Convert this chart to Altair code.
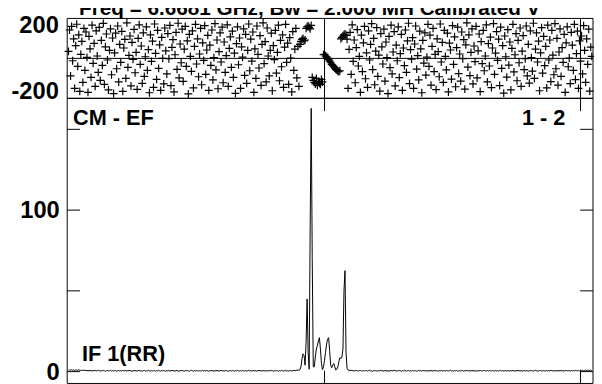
import altair as alt
import pandas as pd

# ---------------- data ----------------
channel = list(range(512))

amplitude = [
    0.9, 1.1, 0.8, 1.2, 0.9, 1.0, 0.7, 1.1, 0.8, 0.9, 1.2, 0.8, 0.6, 0.9, 0.7, 1.0,
    0.6, 0.8, 0.5, 0.7, 0.4, 0.8, 0.6, 0.3, 0.7, 0.5, 0.8, 0.4, 0.6, 0.9, 0.5, 0.3,
    0.6, 0.4, 0.8, 0.5, 0.2, 0.6, 0.7, 0.4, 0.5, 0.8, 0.3, 0.6, 0.4, 0.7, 0.5, 0.2,
    0.5, 0.7, 0.4, 0.6, 0.3, 0.8, 0.5, 0.4, 0.7, 0.3, 0.6, 0.5, 0.8, 0.4, 0.2, 0.6,
    0.4, 0.7, 0.5, 0.3, 0.6, 0.8, 0.4, 0.5, 0.2, 0.6, 0.7, 0.4, 0.5, 0.3, 0.8, 0.5,
    0.3, 0.6, 0.4, 0.7, 0.5, 0.2, 0.6, 0.4, 0.8, 0.5, 0.3, 0.7, 0.4, 0.6, 0.5, 0.2,
    0.6, 0.4, 0.7, 0.3, 0.5, 0.8, 0.4, 0.6, 0.3, 0.5, 0.7, 0.4, 0.2, 0.6, 0.5, 0.8,
    0.4, 0.3, 0.6, 0.5, 0.7, 0.4, 0.2, 0.6, 0.8, 0.5, 0.3, 0.6, 0.4, 0.7, 0.5, 0.3,
    0.6, 0.4, 0.5, 0.8, 0.3, 0.6, 0.4, 0.7, 0.5, 0.2, 0.6, 0.4, 0.7, 0.5, 0.3, 0.6,
    0.4, 0.7, 0.5, 0.3, 0.6, 0.8, 0.4, 0.5, 0.3, 0.6, 0.7, 0.4, 0.2, 0.5, 0.6, 0.4,
    0.7, 0.5, 0.3, 0.6, 0.4, 0.8, 0.5, 0.3, 0.6, 0.4, 0.7, 0.5, 0.2, 0.6, 0.4, 0.5,
    0.8, 0.4, 0.6, 0.3, 0.5, 0.7, 0.4, 0.6, 0.2, 0.5, 0.8, 0.4, 0.6, 0.3, 0.7, 0.5,
    0.4, 0.6, 0.3, 0.7, 0.5, 0.4, 0.8, 0.5, 0.3, 0.6, 0.4, 0.7, 0.5, 0.2, 0.6, 0.4,
    0.7, 0.5, 0.3, 0.6, 0.8, 0.4, 0.5, 0.3, 0.7, 0.6, 0.4, 0.5, 0.8, 0.6, 0.7, 0.9,
    0.8, 1.0, 1.2, 3.0, 8.0, 11.0, 10.0, 4.0, 18.0, 45.0, 12.0, 1.5, 90.0, 163.0, 70.0, 3.0,
    3.0, 9.0, 14.0, 16.0, 19.0, 21.0, 14.0, 5.0, 1.2, 3.0, 7.0, 12.0, 17.0, 20.0, 21.0, 13.0,
    4.0, 2.4, 4.0, 5.0, 3.0, 1.0, 1.5, 3.0, 6.0, 8.6, 8.0, 9.0, 14.0, 50.0, 62.5, 12.0,
    2.0, 1.0, 0.8, 0.6, 0.9, 0.5, 0.7, 0.4, 0.6, 0.8, 0.5, 0.3, 0.6, 0.7, 0.4, 0.5,
    0.6, 0.4, 0.7, 0.5, 0.3, 0.6, 0.8, 0.4, 0.5, 0.2, 0.6, 0.7, 0.4, 0.5, 0.3, 0.6,
    0.5, 0.8, 0.4, 0.6, 0.3, 0.7, 0.5, 0.4, 0.6, 0.2, 0.5, 0.7, 0.4, 0.6, 0.8, 0.5,
    0.3, 0.6, 0.4, 0.7, 0.5, 0.2, 0.6, 0.4, 0.8, 0.5, 0.3, 0.6, 0.7, 0.4, 0.5, 0.3,
    0.7, 0.5, 0.4, 0.6, 0.2, 0.5, 0.8, 0.4, 0.6, 0.3, 0.7, 0.5, 0.4, 0.6, 0.5, 0.3,
    0.6, 0.4, 0.7, 0.5, 0.3, 0.8, 0.4, 0.6, 0.5, 0.2, 0.6, 0.4, 0.7, 0.5, 0.4, 0.6,
    0.3, 0.7, 0.5, 0.4, 0.6, 0.8, 0.4, 0.5, 0.3, 0.6, 0.4, 0.7, 0.2, 0.5, 0.6, 0.4,
    0.7, 0.5, 0.3, 0.6, 0.4, 0.8, 0.5, 0.4, 0.6, 0.3, 0.7, 0.5, 0.4, 0.6, 0.2, 0.5,
    0.6, 0.4, 0.7, 0.5, 0.3, 0.6, 0.8, 0.4, 0.5, 0.6, 0.3, 0.7, 0.4, 0.5, 0.6, 0.4,
    0.5, 0.7, 0.3, 0.6, 0.4, 0.5, 0.8, 0.4, 0.6, 0.3, 0.5, 0.7, 0.4, 0.6, 0.5, 0.3,
    0.6, 0.4, 0.7, 0.5, 0.3, 0.6, 0.4, 0.8, 0.5, 0.4, 0.6, 0.2, 0.5, 0.7, 0.4, 0.6,
    0.5, 0.3, 0.6, 0.4, 0.7, 0.5, 0.4, 0.6, 0.8, 0.4, 0.5, 0.3, 0.6, 0.7, 0.4, 0.5,
    0.6, 0.4, 0.5, 0.7, 0.3, 0.6, 0.4, 0.8, 0.5, 0.4, 0.6, 0.3, 0.7, 0.5, 0.4, 0.6,
    0.5, 0.7, 0.4, 0.6, 0.3, 0.5, 0.8, 0.4, 0.6, 0.5, 0.3, 0.7, 0.4, 0.6, 0.5, 0.8,
    0.6, 0.4, 0.7, 0.5, 0.9, 0.6, 0.8, 0.5, 0.7, 0.9, 0.6, 1.0, 0.8, 0.6, 0.9, 0.7,
]

phase = [
    35, 142, -88, 160, -12, 98, -150, 64, 171, -40, 118, -165, 20, 85, -120, 150,
    -60, 132, 5, -170, 110, 48, -95, 166, -25, 75, -140, 138, 12, -70, 155, -110,
    90, -35, 175, -130, 58, 122, -8, -158, 40, 148, -82, 102, -176, 28, 126, -52,
    162, -118, 70, -20, 135, -165, 52, 95, -100, 178, -45, 15, 112, -138, 80, -5,
    145, -72, 30, -155, 100, 168, -30, 62, -125, 128, -90, 8, 158, -60, 44, -172,
    118, -15, 86, -145, 172, 25, -105, 140, -50, 68, -160, 105, 0, -128, 152, 38,
    -78, 124, -2, 165, -136, 55, 94, -168, 18, 130, -55, 176, -98, 72, -22, 146,
    -115, 46, 160, -40, 88, -178, 120, 10, -65, 138, -148, 60, 170, -28, 98, -92,
    22, 150, -132, 78, -10, 164, -80, 42, 115, -160, 66, -35, 142, -108, 4, 174,
    -58, 92, -152, 34, 128, -18, 156, -122, 82, -70, 14, 168, -140, 50, 108, -45,
    136, -95, 26, -175, 74, 158, -32, 102, -150, 58, 6, 148, -85, 120, -125, 40,
    172, -62, 96, -14, 132, -170, 48, -100, 162, 20, -48, 114, -135, 70, 178, -26,
    84, -118, 152, 12, -88, 40, 126, -162, 64, -6, 140, -74, 30, 166, -112, 90,
    -42, 118, -145, 56, 170, -20, 76, -130, 104, 2, -168, 134, -60, 46, 150, -98,
    60, -140, 70, 85, 95, 100, 88, 92, 150, 158, 162, 155, 148, 165, -95, -110,
    -120, -128, -100, -135, -115, -125, -130, -105, -118, 18, 20, 12, 8, 2, -6, -14,
    -22, -30, -35, -42, -48, -55, -58, -64, -67, -62, 98, 105, 112, 118, 122, 115,
    96, -150, 45, 130, -80, 168, -15, 92, -122, 54, 144, -38, 10, -170, 116, -66,
    78, 160, -102, 28, -145, 138, -8, 70, 174, -56, 100, -132, 36, 154, -90, 16,
    -164, 124, 58, -28, 146, -114, 82, 4, -176, 110, -46, 166, -78, 32, 134, -138,
    66, -12, 158, -96, 24, 120, -160, 52, -36, 142, -70, 88, 176, -126, 44, -4,
    104, -150, 72, 162, -54, 14, -108, 136, 48, -172, 90, -24, 128, -84, 6, 170,
    -40, 116, -134, 60, 150, -66, 20, -156, 98, 34, -92, 172, -18, 80, -120, 140,
    10, -58, 126, -168, 76, 42, -104, 164, -30, 108, -142, 54, 156, -76, 22, -114,
    132, -2, 94, -154, 68, 178, -44, 118, -86, 30, 148, -128, 62, -16, 160, -98,
    38, 122, -166, 84, -26, 140, -62, 12, 168, -118, 74, -38, 106, -146, 52, 174,
    -80, 26, 134, -10, 96, -136, 156, -50, 64, -174, 112, 8, -94, 144, -34, 82,
    -158, 50, 170, -68, 18, 124, -112, 90, -22, 152, -140, 36, 114, -56, -2, 162,
    -88, 70, -124, 138, 4, -64, 176, -100, 46, 128, -18, 86, -162, 28, 154, -74,
    110, -36, 60, -148, 166, -8, 92, -116, 140, 16, -82, 174, -52, 100, -134, 32,
    148, -90, 54, -20, 120, -170, 78, 158, -42, 2, -126, 130, 66, -60, 170, -106,
    24, 136, -150, 88, -14, 112, -78, 164, 40, -120, 98, -30, 146, -164, 56, 10,
]

channel_ticks = [250, 500]
amp_side_ticks = [0, 50, 100, 150]
amp_label_values = [0, 100]
phase_label_values = [-200, 200]

title_text = "Freq = 6.6681 GHz, Bw = 2.000 MH   Calibrated V"
baseline_label = "CM - EF"
ant_label = "1 - 2"
if_label = "IF 1(RR)"

# ---------------- layout constants ----------------
W, H = 533, 368          # plot area (left 68 / top 16 on the page)
PH = 81                  # phase panel height in pixels
ZERO_PX = 358            # plot-y of amplitude 0
FRAME_BOTTOM_PX = 370    # bottom frame just below the window
X_DOMAIN = [-1.3, 512.2]
PHASE_DOMAIN = [-200, 200]
AMP_TOP = 169.2
PPU = (ZERO_PX - PH) / AMP_TOP
AMP_BOTTOM_VIEW = -(H - ZERO_PX) / PPU
AMP_FRAME_BOTTOM = -(FRAME_BOTTOM_PX - ZERO_PX) / PPU
TICK_UNITS = 13 / PPU

FONT = "Liberation Sans"

df = pd.DataFrame({"channel": channel, "amp": amplitude, "phase": phase})

xs = alt.Scale(domain=X_DOMAIN, nice=False, zero=False)
ys_ph = alt.Scale(domain=PHASE_DOMAIN, range=[PH, 0], nice=False, zero=False)
ys_amp = alt.Scale(domain=[AMP_BOTTOM_VIEW, AMP_TOP], range=[H, PH], nice=False, zero=False)

minus_fix = "datum.value < 0 ? '-' + abs(datum.value) : '' + datum.value"
ph_axis = alt.Axis(orient="left", values=phase_label_values, ticks=False, domain=False,
                   grid=False, title=None, labelFont=FONT, labelFontSize=24,
                   labelFontWeight="bold", labelColor="black", labelPadding=9,
                   labelFlush=True, labelFlushOffset=5, labelExpr=minus_fix)
amp_axis = alt.Axis(orient="left", values=amp_label_values, ticks=False, domain=False,
                    grid=False, title=None, labelFont=FONT, labelFontSize=24,
                    labelFontWeight="bold", labelColor="black", labelPadding=8,
                    labelOffset=1, labelFlush=False)

# ---------------- phase panel ----------------
ph_frame = alt.Chart(pd.DataFrame({"a": [PHASE_DOMAIN[1]], "b": [PHASE_DOMAIN[0]]})).mark_rect(
    filled=False, stroke="black", strokeWidth=1
).encode(
    x=alt.datum(X_DOMAIN[0], scale=xs, axis=None),
    x2=alt.datum(X_DOMAIN[1]),
    y=alt.Y("a:Q", scale=ys_ph, axis=ph_axis),
    y2="b:Q",
)

ph_mid = alt.Chart(pd.DataFrame({"v": [0]})).mark_rule(color="black", strokeWidth=1).encode(
    x=alt.datum(X_DOMAIN[0], scale=xs, axis=None),
    x2=alt.datum(X_DOMAIN[1]),
    y=alt.Y("v:Q", scale=ys_ph, axis=ph_axis),
)

ph_vt = alt.Chart(pd.DataFrame({"c": channel_ticks, "a": [PHASE_DOMAIN[1]] * 2,
                                "b": [PHASE_DOMAIN[0]] * 2})).mark_rule(
    color="black", strokeWidth=1
).encode(
    x=alt.X("c:Q", scale=xs, axis=None),
    y=alt.Y("a:Q", scale=ys_ph, axis=ph_axis),
    y2="b:Q",
)

ph_pts = alt.Chart(df).mark_point(
    shape="M-1,0H1M0,-1V1", size=64, filled=False, stroke="black",
    strokeWidth=1.2, opacity=1
).encode(
    x=alt.X("channel:Q", scale=xs, axis=None),
    y=alt.Y("phase:Q", scale=ys_ph, axis=ph_axis),
)

title_mark = alt.Chart(pd.DataFrame({"t": [title_text]})).mark_text(
    font=FONT, fontSize=21, fontWeight="bold", color="black",
    align="left", baseline="alphabetic"
).encode(text="t:N", x=alt.value(12), y=alt.value(-3))

phase_layer = alt.layer(ph_frame, ph_mid, ph_vt, ph_pts, title_mark)

# ---------------- amplitude panel ----------------
amp_frame = alt.Chart(pd.DataFrame({"a": [AMP_TOP], "b": [AMP_FRAME_BOTTOM]})).mark_rect(
    filled=False, stroke="black", strokeWidth=1
).encode(
    x=alt.datum(X_DOMAIN[0], scale=xs, axis=None),
    x2=alt.datum(X_DOMAIN[1]),
    y=alt.Y("a:Q", scale=ys_amp, axis=amp_axis),
    y2="b:Q",
)

side_df = pd.DataFrame({"v": amp_side_ticks})
amp_lt = alt.Chart(side_df).mark_rule(color="black", strokeWidth=1).encode(
    x=alt.value(0), x2=alt.value(13),
    y=alt.Y("v:Q", scale=ys_amp, axis=amp_axis),
)
amp_rt = alt.Chart(side_df).mark_rule(color="black", strokeWidth=1).encode(
    x=alt.value(W - 13), x2=alt.value(W),
    y=alt.Y("v:Q", scale=ys_amp, axis=amp_axis),
)

top_t = alt.Chart(pd.DataFrame({"c": channel_ticks, "a": [AMP_TOP] * 2,
                                "b": [AMP_TOP - TICK_UNITS] * 2})).mark_rule(
    color="black", strokeWidth=1
).encode(
    x=alt.X("c:Q", scale=xs, axis=None),
    y=alt.Y("a:Q", scale=ys_amp, axis=amp_axis),
    y2="b:Q",
)
bot_t = alt.Chart(pd.DataFrame({"c": channel_ticks, "a": [AMP_FRAME_BOTTOM] * 2,
                                "b": [AMP_FRAME_BOTTOM + TICK_UNITS] * 2})).mark_rule(
    color="black", strokeWidth=1
).encode(
    x=alt.X("c:Q", scale=xs, axis=None),
    y=alt.Y("a:Q", scale=ys_amp, axis=amp_axis),
    y2="b:Q",
)

spec = alt.Chart(df).mark_line(color="black", strokeWidth=1).encode(
    x=alt.X("channel:Q", scale=xs, axis=None),
    y=alt.Y("amp:Q", scale=ys_amp, axis=amp_axis),
)

lab_style = dict(font=FONT, fontSize=22, fontWeight="bold", color="black",
                 baseline="alphabetic")
lab_bl = alt.Chart(pd.DataFrame({"t": [baseline_label]})).mark_text(
    align="left", **lab_style).encode(text="t:N", x=alt.value(6), y=alt.value(108))
lab_ant = alt.Chart(pd.DataFrame({"t": [ant_label]})).mark_text(
    align="right", **lab_style).encode(text="t:N", x=alt.value(505), y=alt.value(108))
lab_if = alt.Chart(pd.DataFrame({"t": [if_label]})).mark_text(
    align="left", **lab_style).encode(text="t:N", x=alt.value(15), y=alt.value(ZERO_PX - 11))

amp_layer = alt.layer(amp_frame, amp_lt, amp_rt, top_t, bot_t, spec, lab_bl, lab_ant, lab_if)

chart = alt.layer(phase_layer, amp_layer).resolve_scale(y="independent").resolve_axis(
    y="independent"
).properties(
    width=W, height=H,
    autosize=alt.AutoSizeParams(type="none"),
    padding={"left": 60, "top": 8, "right": 1, "bottom": 0},
    background="white",
).configure_view(stroke=None)

chart.save("out.html", embed_options={"renderer": "svg", "actions": False})
